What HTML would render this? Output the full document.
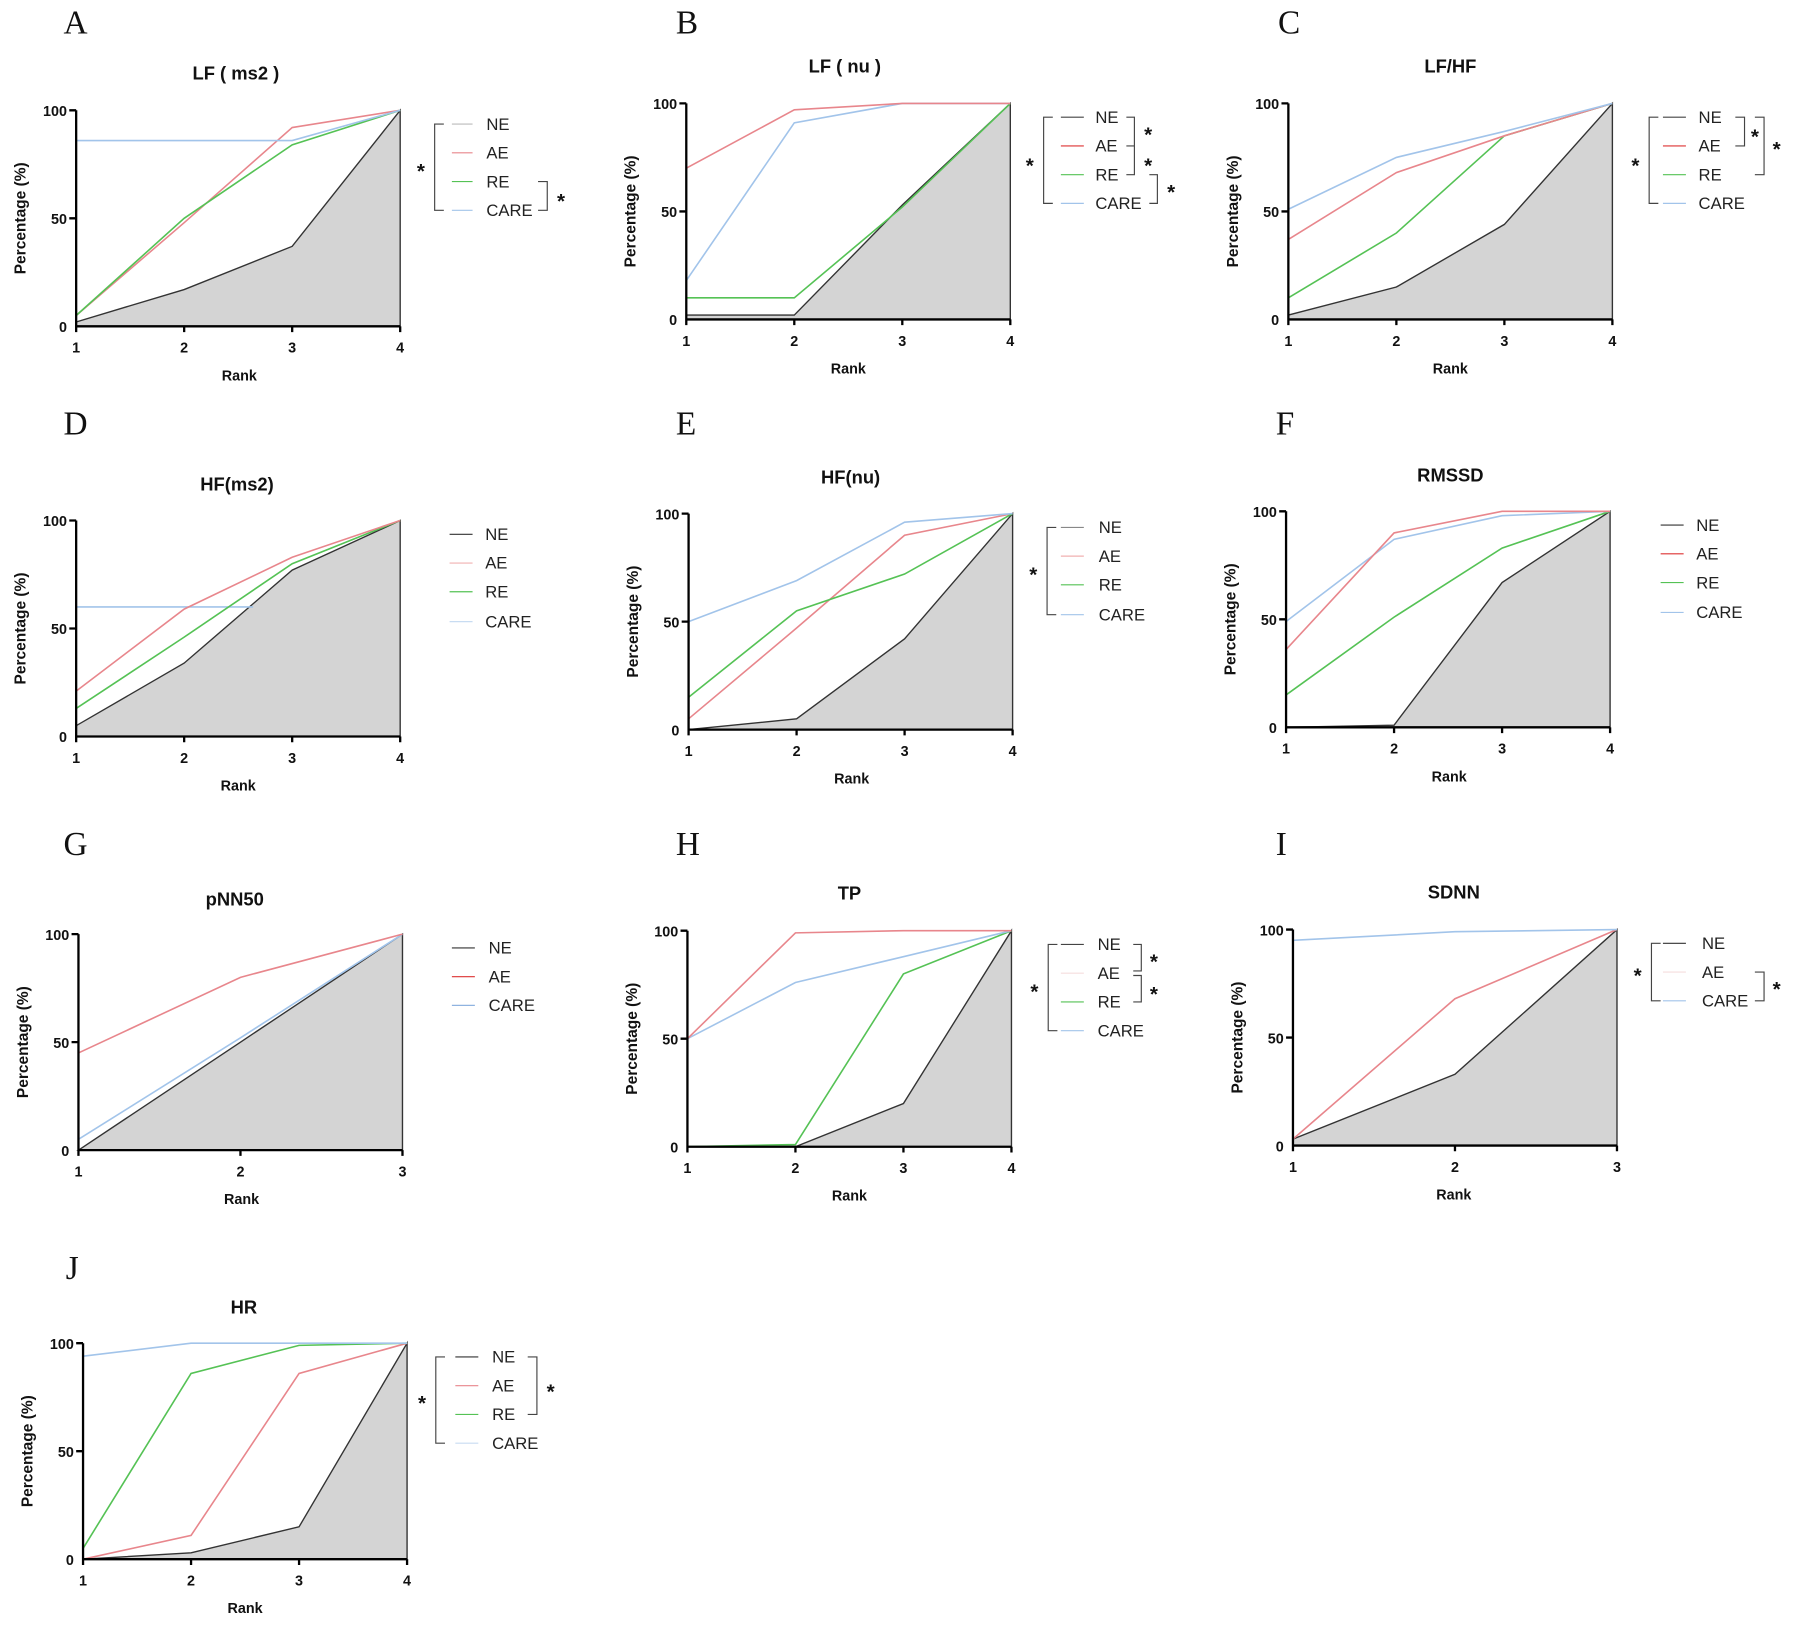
<!DOCTYPE html>
<html><head><meta charset="utf-8"><style>
html,body{margin:0;padding:0;background:#fff;}
svg{display:block;}
.L{font-family:"Liberation Serif",serif;font-size:29px;fill:#111;}
.T{font-family:"Liberation Sans",sans-serif;font-size:16px;font-weight:bold;fill:#111;text-anchor:middle;}
.k{font-family:"Liberation Sans",sans-serif;font-size:12.5px;font-weight:bold;fill:#111;text-anchor:middle;}
.yl{font-family:"Liberation Sans",sans-serif;font-size:13.5px;font-weight:bold;fill:#111;text-anchor:middle;}
.yk{font-family:"Liberation Sans",sans-serif;font-size:12.5px;font-weight:bold;fill:#111;text-anchor:end;}
.lg{font-family:"Liberation Sans",sans-serif;font-size:14.5px;fill:#222;}
.st{font-family:"Liberation Sans",sans-serif;font-size:18px;font-weight:bold;fill:#111;text-anchor:middle;}
.ax{stroke:#000;stroke-width:2;fill:none;}
.f{fill:#d4d4d4;stroke:#333;stroke-width:1.2;}
.ae{stroke:#e8868c;stroke-width:1.4;fill:none;}
.re{stroke:#55c255;stroke-width:1.4;fill:none;}
.ca{stroke:#a2c4ea;stroke-width:1.4;fill:none;}
.br{stroke:#444;stroke-width:1;fill:none;}
</style></head><body>
<svg width="1800" height="1627" viewBox="0 0 1566 1416" xmlns="http://www.w3.org/2000/svg">
<!-- A -->
<text class="L" x="55" y="29">A</text>
<text class="T" x="205" y="69">LF ( ms2 )</text>
<polygon class="f" points="66,284 66,280.2 160,252 254,214.4 348,96 348,284"/>
<polyline class="ae" points="66,274.6 160,193.8 254,111 348,96"/>
<polyline class="re" points="66,274.6 160,190 254,126.1 348,96"/>
<polyline class="ca" points="66,122.3 160,122.3 254,122.3 348,96"/>
<path class="ax" d="M66,96V284H348M60,96H66M60,190H66M160,284v5M254,284v5M348,284v5M66,284v5"/>
<text class="yk" x="58" y="101">100</text><text class="yk" x="58" y="195">50</text><text class="yk" x="58" y="289">0</text>
<text class="k" x="66" y="307">1</text><text class="k" x="160" y="307">2</text><text class="k" x="254" y="307">3</text><text class="k" x="348" y="307">4</text>
<text class="k" x="208" y="331">Rank</text>
<text class="yl" transform="translate(22,190) rotate(-90)">Percentage (%)</text>
<line x1="393" y1="108" x2="411" y2="108" stroke="#bbb"/><line x1="393" y1="133" x2="411" y2="133" stroke="#e8868c"/><line x1="393" y1="158" x2="411" y2="158" stroke="#55c255"/><line x1="393" y1="183" x2="411" y2="183" stroke="#a2c4ea"/>
<text class="lg" x="423" y="113">NE</text><text class="lg" x="423" y="138">AE</text><text class="lg" x="423" y="163">RE</text><text class="lg" x="423" y="188">CARE</text>
<path class="br" d="M386,108H378V183H386M468,158H476V183H468"/>
<text class="st" x="366" y="155">*</text><text class="st" x="488" y="181">*</text>

<!-- B -->
<text class="L" x="588" y="29">B</text>
<text class="T" x="735" y="63">LF ( nu )</text>
<polygon class="f" points="597,278 597,274.2 691,274.2 785,178.4 879,90 879,278"/>
<polyline class="re" points="597,259.2 691,259.2 785,180.2 879,90"/>
<polyline class="ca" points="597,244.2 691,106.9 785,90 879,90"/>
<polyline class="ae" points="597,146.4 691,95.6 785,90 879,90"/>
<path class="ax" d="M597,90V278H879M591,90H597M591,184H597M597,278v5M691,278v5M785,278v5M879,278v5"/>
<text class="yk" x="589" y="95">100</text><text class="yk" x="589" y="189">50</text><text class="yk" x="589" y="283">0</text>
<text class="k" x="597" y="301">1</text><text class="k" x="691" y="301">2</text><text class="k" x="785" y="301">3</text><text class="k" x="879" y="301">4</text>
<text class="k" x="738" y="325">Rank</text>
<text class="yl" transform="translate(553,184) rotate(-90)">Percentage (%)</text>
<line x1="923" y1="102" x2="943" y2="102" stroke="#444"/><line x1="923" y1="127" x2="943" y2="127" stroke="#d33"/><line x1="923" y1="152" x2="943" y2="152" stroke="#55c255"/><line x1="923" y1="177" x2="943" y2="177" stroke="#a2c4ea"/>
<text class="lg" x="953" y="107">NE</text><text class="lg" x="953" y="132">AE</text><text class="lg" x="953" y="157">RE</text><text class="lg" x="953" y="182">CARE</text>
<path class="br" d="M916,102H908V177H916M980,102H987V127H980M980,127H987V152H980M1000,152H1007V177H1000"/>
<text class="st" x="896" y="150">*</text><text class="st" x="999" y="123">*</text><text class="st" x="999" y="150">*</text><text class="st" x="1019" y="173">*</text>

<!-- C -->
<text class="L" x="1112" y="29">C</text>
<text class="T" x="1262" y="63">LF/HF</text>
<polygon class="f" points="1121,278 1121,274.2 1215,249.8 1309,195.3 1403,90 1403,278"/>
<polyline class="re" points="1121,259.2 1215,202.8 1309,118.2 1403,90"/>
<polyline class="ae" points="1121,208.4 1215,150.2 1309,118.2 1403,90"/>
<polyline class="ca" points="1121,182.1 1215,137 1309,114.4 1403,90"/>
<path class="ax" d="M1121,90V278H1403M1115,90H1121M1115,184H1121M1121,278v5M1215,278v5M1309,278v5M1403,278v5"/>
<text class="yk" x="1113" y="95">100</text><text class="yk" x="1113" y="189">50</text><text class="yk" x="1113" y="283">0</text>
<text class="k" x="1121" y="301">1</text><text class="k" x="1215" y="301">2</text><text class="k" x="1309" y="301">3</text><text class="k" x="1403" y="301">4</text>
<text class="k" x="1262" y="325">Rank</text>
<text class="yl" transform="translate(1077,184) rotate(-90)">Percentage (%)</text>
<line x1="1447" y1="102" x2="1467" y2="102" stroke="#444"/><line x1="1447" y1="127" x2="1467" y2="127" stroke="#d33"/><line x1="1447" y1="152" x2="1467" y2="152" stroke="#55c255"/><line x1="1447" y1="177" x2="1467" y2="177" stroke="#a2c4ea"/>
<text class="lg" x="1478" y="107">NE</text><text class="lg" x="1478" y="132">AE</text><text class="lg" x="1478" y="157">RE</text><text class="lg" x="1478" y="182">CARE</text>
<path class="br" d="M1443,102H1435V177H1443M1510,102H1518V127H1510M1527,102H1535V152H1527"/>
<text class="st" x="1423" y="150">*</text><text class="st" x="1527" y="125">*</text><text class="st" x="1546" y="136">*</text>

<!-- D -->
<text class="L" x="55" y="378">D</text>
<text class="T" x="206" y="427">HF(ms2)</text>
<polygon class="f" points="66,641 66,631.6 160,577.1 254,496.2 348,453 348,641"/>
<polyline class="ca" points="66,528.2 220,528.2"/>
<polyline class="re" points="66,616.6 160,554.5 254,490.6 348,453"/>
<polyline class="ae" points="66,601.5 160,530.1 254,485 348,453"/>
<path class="ax" d="M66,453V641H348M60,453H66M60,547H66M66,641v5M160,641v5M254,641v5M348,641v5"/>
<text class="yk" x="58" y="458">100</text><text class="yk" x="58" y="552">50</text><text class="yk" x="58" y="646">0</text>
<text class="k" x="66" y="664">1</text><text class="k" x="160" y="664">2</text><text class="k" x="254" y="664">3</text><text class="k" x="348" y="664">4</text>
<text class="k" x="207" y="688">Rank</text>
<text class="yl" transform="translate(22,547) rotate(-90)">Percentage (%)</text>
<line x1="391" y1="465" x2="411" y2="465" stroke="#333"/><line x1="391" y1="490" x2="411" y2="490" stroke="#f0b0b0"/><line x1="391" y1="515" x2="411" y2="515" stroke="#55c255"/><line x1="391" y1="541" x2="411" y2="541" stroke="#c8dcf2"/>
<text class="lg" x="422" y="470">NE</text><text class="lg" x="422" y="495">AE</text><text class="lg" x="422" y="520">RE</text><text class="lg" x="422" y="546">CARE</text>

<!-- E -->
<text class="L" x="588" y="378">E</text>
<text class="T" x="740" y="421">HF(nu)</text>
<polygon class="f" points="599,635 599,635 693,625.6 787,556 881,447 881,635"/>
<polyline class="ae" points="599,625.6 693,546.6 787,465.8 881,447"/>
<polyline class="re" points="599,606.8 693,531.6 787,499.6 881,447"/>
<polyline class="ca" points="599,541 693,505.3 787,454.5 881,447"/>
<path class="ax" d="M599,447V635H881M593,447H599M593,541H599M599,635v5M693,635v5M787,635v5M881,635v5"/>
<text class="yk" x="591" y="452">100</text><text class="yk" x="591" y="546">50</text><text class="yk" x="591" y="640">0</text>
<text class="k" x="599" y="658">1</text><text class="k" x="693" y="658">2</text><text class="k" x="787" y="658">3</text><text class="k" x="881" y="658">4</text>
<text class="k" x="741" y="682">Rank</text>
<text class="yl" transform="translate(555,541) rotate(-90)">Percentage (%)</text>
<line x1="923" y1="459" x2="943" y2="459" stroke="#888"/><line x1="923" y1="484" x2="943" y2="484" stroke="#f0b0b0"/><line x1="923" y1="509" x2="943" y2="509" stroke="#55c255"/><line x1="923" y1="535" x2="943" y2="535" stroke="#a2c4ea"/>
<text class="lg" x="956" y="464">NE</text><text class="lg" x="956" y="489">AE</text><text class="lg" x="956" y="514">RE</text><text class="lg" x="956" y="540">CARE</text>
<path class="br" d="M919,459H911V535H919"/>
<text class="st" x="899" y="506">*</text>

<!-- F -->
<text class="L" x="1110" y="378">F</text>
<text class="T" x="1262" y="419">RMSSD</text>
<polygon class="f" points="1119,633 1213,631.1 1307,507 1401,445 1401,633"/>
<polyline class="re" points="1119,604.8 1213,537.1 1307,477 1401,445"/>
<polyline class="ca" points="1119,540.9 1213,469.4 1307,448.8 1401,445"/>
<polyline class="ae" points="1119,565.3 1213,463.8 1307,445 1401,445"/>
<path class="ax" d="M1119,445V633H1401M1113,445H1119M1113,539H1119M1119,633v5M1213,633v5M1307,633v5M1401,633v5"/>
<text class="yk" x="1111" y="450">100</text><text class="yk" x="1111" y="544">50</text><text class="yk" x="1111" y="638">0</text>
<text class="k" x="1119" y="656">1</text><text class="k" x="1213" y="656">2</text><text class="k" x="1307" y="656">3</text><text class="k" x="1401" y="656">4</text>
<text class="k" x="1261" y="680">Rank</text>
<text class="yl" transform="translate(1075,539) rotate(-90)">Percentage (%)</text>
<line x1="1445" y1="457" x2="1465" y2="457" stroke="#333"/><line x1="1445" y1="482" x2="1465" y2="482" stroke="#d33"/><line x1="1445" y1="507" x2="1465" y2="507" stroke="#55c255"/><line x1="1445" y1="533" x2="1465" y2="533" stroke="#a2c4ea"/>
<text class="lg" x="1476" y="462">NE</text><text class="lg" x="1476" y="487">AE</text><text class="lg" x="1476" y="512">RE</text><text class="lg" x="1476" y="538">CARE</text>

<!-- G -->
<text class="L" x="55" y="744">G</text>
<text class="T" x="204" y="788">pNN50</text>
<polygon class="f" points="68,1001 209,907 350,813 350,1001"/>
<polyline class="ca" points="68,991.6 209,903.2 350,813"/>
<polyline class="ae" points="68,916.4 209,850.6 350,813"/>
<path class="ax" d="M68,813V1001H350M62,813H68M62,907H68M68,1001v5M209,1001v5M350,1001v5"/>
<text class="yk" x="60" y="818">100</text><text class="yk" x="60" y="912">50</text><text class="yk" x="60" y="1006">0</text>
<text class="k" x="68" y="1024">1</text><text class="k" x="209" y="1024">2</text><text class="k" x="350" y="1024">3</text>
<text class="k" x="210" y="1048">Rank</text>
<text class="yl" transform="translate(24,907) rotate(-90)">Percentage (%)</text>
<line x1="393" y1="825" x2="413" y2="825" stroke="#333"/><line x1="393" y1="850" x2="413" y2="850" stroke="#d33"/><line x1="393" y1="875" x2="413" y2="875" stroke="#8fb3e0"/>
<text class="lg" x="425" y="830">NE</text><text class="lg" x="425" y="855">AE</text><text class="lg" x="425" y="880">CARE</text>

<!-- H -->
<text class="L" x="588" y="744">H</text>
<text class="T" x="739" y="783">TP</text>
<polygon class="f" points="598,998 692,998 786,960.4 880,810 880,998"/>
<polyline class="re" points="598,998 692,996.1 786,847.6 880,810"/>
<polyline class="ca" points="598,904 692,855.1 786,832.6 880,810"/>
<polyline class="ae" points="598,904 692,811.9 786,810 880,810"/>
<path class="ax" d="M598,810V998H880M592,810H598M592,904H598M598,998v5M692,998v5M786,998v5M880,998v5"/>
<text class="yk" x="590" y="815">100</text><text class="yk" x="590" y="909">50</text><text class="yk" x="590" y="1003">0</text>
<text class="k" x="598" y="1021">1</text><text class="k" x="692" y="1021">2</text><text class="k" x="786" y="1021">3</text><text class="k" x="880" y="1021">4</text>
<text class="k" x="739" y="1045">Rank</text>
<text class="yl" transform="translate(554,904) rotate(-90)">Percentage (%)</text>
<line x1="923" y1="822" x2="943" y2="822" stroke="#444"/><line x1="923" y1="847" x2="943" y2="847" stroke="#f5dede"/><line x1="923" y1="872" x2="943" y2="872" stroke="#55c255"/><line x1="923" y1="897" x2="943" y2="897" stroke="#a2c4ea"/>
<text class="lg" x="955" y="827">NE</text><text class="lg" x="955" y="852">AE</text><text class="lg" x="955" y="877">RE</text><text class="lg" x="955" y="902">CARE</text>
<path class="br" d="M920,822H912V897H920M986,822H993V845H986M986,849H993V872H986"/>
<text class="st" x="900" y="869">*</text><text class="st" x="1004" y="843">*</text><text class="st" x="1004" y="871">*</text>

<!-- I -->
<text class="L" x="1110" y="744">I</text>
<text class="T" x="1265" y="782">SDNN</text>
<polygon class="f" points="1125,997 1125,991.4 1266,935 1407,809 1407,997"/>
<polyline class="ae" points="1125,991.4 1266,869.2 1407,809"/>
<polyline class="ca" points="1125,818.4 1266,810.9 1407,809"/>
<path class="ax" d="M1125,809V997H1407M1119,809H1125M1119,903H1125M1125,997v5M1266,997v5M1407,997v5"/>
<text class="yk" x="1117" y="814">100</text><text class="yk" x="1117" y="908">50</text><text class="yk" x="1117" y="1002">0</text>
<text class="k" x="1125" y="1020">1</text><text class="k" x="1266" y="1020">2</text><text class="k" x="1407" y="1020">3</text>
<text class="k" x="1265" y="1044">Rank</text>
<text class="yl" transform="translate(1081,903) rotate(-90)">Percentage (%)</text>
<line x1="1447" y1="821" x2="1467" y2="821" stroke="#333"/><line x1="1447" y1="846" x2="1467" y2="846" stroke="#f5dede"/><line x1="1447" y1="871" x2="1467" y2="871" stroke="#a2c4ea"/>
<text class="lg" x="1481" y="826">NE</text><text class="lg" x="1481" y="851">AE</text><text class="lg" x="1481" y="876">CARE</text>
<path class="br" d="M1445,821H1437V871H1445M1527,846H1535V871H1527"/>
<text class="st" x="1425" y="855">*</text><text class="st" x="1546" y="867">*</text>

<!-- J -->
<text class="L" x="57" y="1113">J</text>
<text class="T" x="212" y="1143">HR</text>
<polygon class="f" points="72,1357 166,1351.4 260,1328.8 354,1169 354,1357"/>
<polyline class="ae" points="72,1357 166,1336.3 260,1195.3 354,1169"/>
<polyline class="re" points="72,1347.6 166,1195.3 260,1170.9 354,1169"/>
<polyline class="ca" points="72,1180.3 166,1169 260,1169 354,1169"/>
<path class="ax" d="M72,1169V1357H354M66,1169H72M66,1263H72M72,1357v5M166,1357v5M260,1357v5M354,1357v5"/>
<text class="yk" x="64" y="1174">100</text><text class="yk" x="64" y="1268">50</text><text class="yk" x="64" y="1362">0</text>
<text class="k" x="72" y="1380">1</text><text class="k" x="166" y="1380">2</text><text class="k" x="260" y="1380">3</text><text class="k" x="354" y="1380">4</text>
<text class="k" x="213" y="1404">Rank</text>
<text class="yl" transform="translate(28,1263) rotate(-90)">Percentage (%)</text>
<line x1="396" y1="1181" x2="416" y2="1181" stroke="#333"/><line x1="396" y1="1206" x2="416" y2="1206" stroke="#e8868c"/><line x1="396" y1="1231" x2="416" y2="1231" stroke="#55c255"/><line x1="396" y1="1256" x2="416" y2="1256" stroke="#c8dcf2"/>
<text class="lg" x="428" y="1186">NE</text><text class="lg" x="428" y="1211">AE</text><text class="lg" x="428" y="1236">RE</text><text class="lg" x="428" y="1261">CARE</text>
<path class="br" d="M387,1181H379V1256H387M459,1181H467V1231H459"/>
<text class="st" x="367" y="1227">*</text><text class="st" x="479" y="1217">*</text>
</svg>
</body></html>
